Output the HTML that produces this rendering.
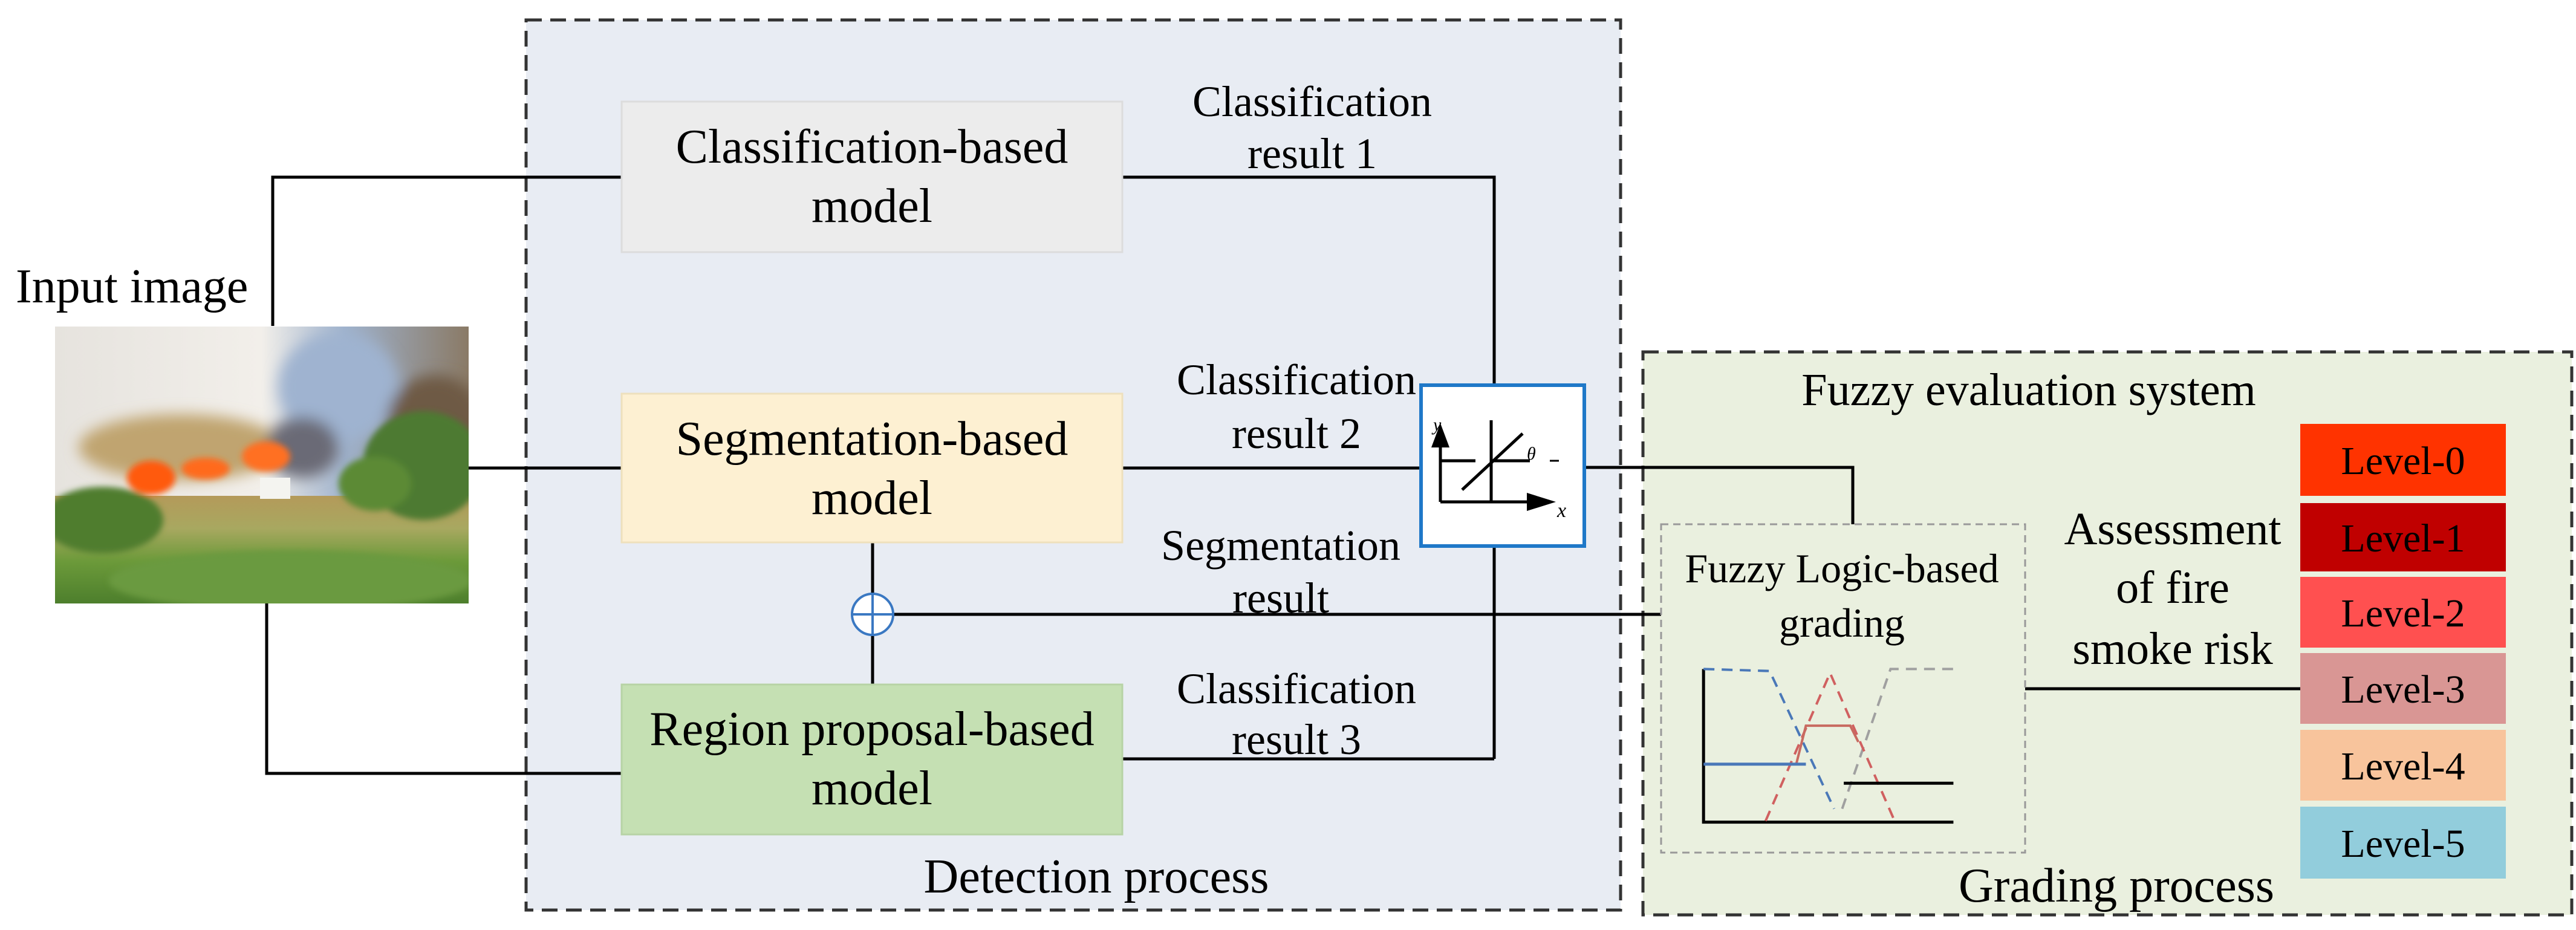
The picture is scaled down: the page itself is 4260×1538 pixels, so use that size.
<!DOCTYPE html>
<html><head><meta charset="utf-8"><style>
html,body{margin:0;padding:0;background:#fff;}
svg{display:block;}
text{font-family:"Liberation Serif",serif;fill:#000;}
</style></head><body>
<svg width="4260" height="1538" viewBox="0 0 4260 1538" xmlns="http://www.w3.org/2000/svg">
<defs>
<linearGradient id="sky" x1="0" y1="0" x2="1" y2="0">
<stop offset="0" stop-color="#e6e3de"/><stop offset="0.5" stop-color="#f2efea"/><stop offset="0.7" stop-color="#9fb2cc"/><stop offset="1" stop-color="#8a7a66"/>
</linearGradient>
<linearGradient id="ground" x1="0" y1="0" x2="0" y2="1">
<stop offset="0" stop-color="#b49a5a"/><stop offset="0.3" stop-color="#a8a860"/><stop offset="0.6" stop-color="#6c9a3a"/><stop offset="1" stop-color="#4c7e2c"/>
</linearGradient>
<filter id="blur"><feGaussianBlur stdDeviation="12"/></filter>
<filter id="blur2"><feGaussianBlur stdDeviation="5"/></filter>
<clipPath id="imgclip"><rect x="91" y="540" width="684" height="458"/></clipPath>
</defs>

<rect x="870" y="33" width="1810" height="1472" fill="#e8ecf3" stroke="#333" stroke-width="5" stroke-dasharray="26,14"/>
<rect x="2717" y="582" width="1536" height="931" fill="#eaf0df" stroke="#333" stroke-width="5" stroke-dasharray="26,14"/>

<g clip-path="url(#imgclip)">
<rect x="91" y="540" width="684" height="458" fill="url(#sky)"/>
<g filter="url(#blur)">
<ellipse cx="560" cy="640" rx="100" ry="90" fill="#9fb3d0"/>
<ellipse cx="300" cy="740" rx="170" ry="55" fill="#c0a470"/>
<ellipse cx="720" cy="700" rx="80" ry="80" fill="#6e5a44"/>
<ellipse cx="500" cy="740" rx="60" ry="50" fill="#6a6a76"/>
</g>
<rect x="91" y="820" width="684" height="180" fill="url(#ground)"/>
<g filter="url(#blur2)">
<ellipse cx="170" cy="860" rx="100" ry="55" fill="#4f7d2e"/>
<ellipse cx="700" cy="770" rx="100" ry="90" fill="#4d7a30"/>
<ellipse cx="620" cy="800" rx="60" ry="45" fill="#5b8a36"/>
<ellipse cx="250" cy="790" rx="40" ry="28" fill="#ff5a10"/>
<ellipse cx="340" cy="775" rx="40" ry="18" fill="#ff6a1a"/>
<ellipse cx="440" cy="755" rx="40" ry="25" fill="#ff7020"/>
<ellipse cx="480" cy="960" rx="300" ry="50" fill="#6a9a40"/>
</g>
<rect x="430" y="790" width="50" height="35" fill="#f4f4f0"/>
</g>

<g stroke="#000" stroke-width="5" fill="none">
<polyline points="451,539 451,293 1028,293"/>
<line x1="775" y1="774" x2="1028" y2="774"/>
<polyline points="441,998 441,1279 1028,1279"/>
<polyline points="1856,293 2471,293 2471,637"/>
<line x1="2471" y1="903" x2="2471" y2="1255"/>
<line x1="1856" y1="1255" x2="2471" y2="1255"/>
<line x1="1856" y1="774" x2="2350" y2="774"/>
<line x1="1443" y1="897" x2="1443" y2="1132"/>
<line x1="1478" y1="1016" x2="2747" y2="1016"/>
<polyline points="2620,773 3064,773 3064,867"/>
<line x1="3349" y1="1139" x2="3804" y2="1139"/>
</g>

<rect x="1028" y="168" width="828" height="249" fill="#ececec" stroke="#dcdcdc" stroke-width="3"/>
<rect x="1028" y="651" width="828" height="246" fill="#fdf0d2" stroke="#eee0bc" stroke-width="3"/>
<rect x="1028" y="1132" width="828" height="248" fill="#c5e0b3" stroke="#b7d3a5" stroke-width="3"/>

<circle cx="1443" cy="1016" r="34" fill="#fff" stroke="#3a78c2" stroke-width="4"/>
<line x1="1409" y1="1016" x2="1477" y2="1016" stroke="#3a78c2" stroke-width="4"/>
<line x1="1443" y1="982" x2="1443" y2="1050" stroke="#3a78c2" stroke-width="4"/>

<rect x="2350" y="637" width="270" height="266" fill="#fff" stroke="#1f78c8" stroke-width="6"/>
<g stroke="#000" stroke-width="5" fill="none">
<line x1="2382" y1="830" x2="2382" y2="735"/>
<line x1="2382" y1="830" x2="2530" y2="830"/>
<line x1="2466" y1="695" x2="2466" y2="830"/>
<line x1="2382" y1="762" x2="2440" y2="762"/>
<line x1="2470" y1="762" x2="2530" y2="762"/>
<line x1="2418" y1="810" x2="2518" y2="717"/>
<line x1="2563" y1="762" x2="2578" y2="762" stroke-width="3"/>
</g>
<polygon points="2382,700 2367,740 2397,740" fill="#000"/>
<polygon points="2573,830 2525,815 2525,845" fill="#000"/>
<text x="2525" y="760" font-size="30" font-style="italic">θ</text>
<text x="2575" y="855" font-size="34" font-style="italic">x</text>
<text x="2370" y="712" font-size="30" font-style="italic">y</text>

<rect x="2747" y="867" width="602" height="543" fill="none" stroke="#999" stroke-width="3" stroke-dasharray="12,8"/>
<g transform="translate(2200,500) scale(1.333,0.67)" fill="none">
<polyline points="463,905 463,1283 773,1283" stroke="#000" stroke-width="5" vector-effect="non-scaling-stroke"/>
<polyline points="463,905 545,910 625,1250" stroke="#4a78b8" stroke-width="4" stroke-dasharray="18,12" vector-effect="non-scaling-stroke"/>
<polyline points="635,1250 695,905 773,905" stroke="#a0a0a0" stroke-width="4" stroke-dasharray="18,12" vector-effect="non-scaling-stroke"/>
<polyline points="540,1280 620,915 700,1280" stroke="#d06060" stroke-width="4" stroke-dasharray="18,12" vector-effect="non-scaling-stroke"/>
<polyline points="578,1140 590,1045 645,1045 655,1085" stroke="#c86a60" stroke-width="4" vector-effect="non-scaling-stroke"/>
<polyline points="463,1140 590,1140" stroke="#4a78b8" stroke-width="5" vector-effect="non-scaling-stroke"/>
<polyline points="637,1187 773,1187" stroke="#000" stroke-width="5" vector-effect="non-scaling-stroke"/>
</g>

<rect x="3804" y="701" width="340" height="119" fill="#ff3300"/>
<rect x="3804" y="832" width="340" height="113" fill="#c00000"/>
<rect x="3804" y="954" width="340" height="117" fill="#ff5050"/>
<rect x="3804" y="1080" width="340" height="117" fill="#d99694"/>
<rect x="3804" y="1207" width="340" height="117" fill="#f8c49c"/>
<rect x="3804" y="1334" width="340" height="119" fill="#92cddc"/>
<g font-size="66" text-anchor="middle">
<text x="3974" y="784">Level-0</text>
<text x="3974" y="912">Level-1</text>
<text x="3974" y="1036">Level-2</text>
<text x="3974" y="1162">Level-3</text>
<text x="3974" y="1289">Level-4</text>
<text x="3974" y="1417">Level-5</text>
</g>

<text x="26" y="500" font-size="80">Input image</text>
<g font-size="80" text-anchor="middle">
<text x="1442" y="269">Classification-based</text>
<text x="1442" y="367">model</text>
<text x="1442" y="752">Segmentation-based</text>
<text x="1442" y="850">model</text>
<text x="1442" y="1232">Region proposal-based</text>
<text x="1442" y="1330">model</text>
<text x="1813" y="1476">Detection process</text>
<text x="3500" y="1491">Grading process</text>
</g>
<g font-size="72" text-anchor="middle">
<text x="2170" y="192">Classification</text>
<text x="2170" y="278">result  1</text>
<text x="2144" y="652">Classification</text>
<text x="2144" y="741">result  2</text>
<text x="2118" y="926">Segmentation</text>
<text x="2118" y="1013">result</text>
<text x="2144" y="1163">Classification</text>
<text x="2144" y="1247">result  3</text>
<text x="3355" y="670" font-size="76">Fuzzy evaluation system</text>
<text x="3046" y="963" font-size="68">Fuzzy Logic-based</text>
<text x="3046" y="1053" font-size="68">grading</text>
<text x="3593" y="900" font-size="76">Assessment</text>
<text x="3593" y="997" font-size="76">of fire</text>
<text x="3593" y="1098" font-size="76">smoke risk</text>
</g>
</svg>
</body></html>
